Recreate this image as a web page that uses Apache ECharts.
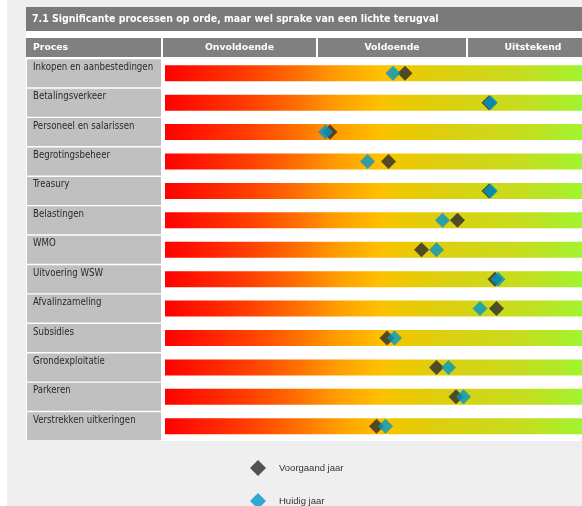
<!DOCTYPE html>
<html><head><meta charset="utf-8">
<script src="https://cdn.jsdelivr.net/npm/echarts@6/dist/echarts.min.js"></script>
<style>html,body{margin:0;padding:0;background:#fff}#c{width:582px;height:506px}</style>
</head><body><div id="c"></div>
<script>
const titleText = '7.1 Significante processen op orde, maar wel sprake van een lichte terugval';
const headerLabels = ['Proces', 'Onvoldoende', 'Voldoende', 'Uitstekend'];
const categories = ['Inkopen en aanbestedingen', 'Betalingsverkeer', 'Personeel en salarissen', 'Begrotingsbeheer', 'Treasury', 'Belastingen', 'WMO', 'Uitvoering WSW', 'Afvalinzameling', 'Subsidies', 'Grondexploitatie', 'Parkeren', 'Verstrekken uitkeringen'];
const seriesNames = ['Voorgaand jaar', 'Huidig jaar'];
const previousYear = [1.60, 2.16, 1.10, 1.49, 2.16, 1.95, 1.71, 2.20, 2.21, 1.48, 1.81, 1.94, 1.41];
const currentYear = [1.52, 2.17, 1.07, 1.35, 2.17, 1.85, 1.81, 2.22, 2.10, 1.53, 1.89, 1.99, 1.47];
const trackValues = [3, 3, 3, 3, 3, 3, 3, 3, 3, 3, 3, 3, 3];
const labelCellValues = [1, 1, 1, 1, 1, 1, 1, 1, 1, 1, 1, 1, 1];

const chart = echarts.init(document.getElementById('c'), null, {renderer: 'canvas'});
const narrow = '"Liberation Sans Narrow", "DejaVu Sans Condensed", sans-serif';

const headerCells = [[26, 135], [163, 153], [318, 148], [468, 130]];
const headerGraphics = [];
headerLabels.forEach((lab, i) => {
  const [x, w] = headerCells[i];
  headerGraphics.push({type: 'rect', shape: {x: x, y: 38, width: w, height: 19}, style: {fill: '#808080'}, silent: true});
  headerGraphics.push({type: 'text', x: i === 0 ? 33 : x + w / 2, y: 47.5,
    style: {text: lab, fill: '#ffffff', font: 'bold 9.3px "DejaVu Sans", sans-serif', textAlign: i === 0 ? 'left' : 'center', textVerticalAlign: 'middle'}, silent: true});
});

const gradient = new echarts.graphic.LinearGradient(0, 0, 1, 0, [
  {offset: 0, color: '#ff0000'},
  {offset: 0.204, color: '#ff4000'},
  {offset: 0.324, color: '#ff7200'},
  {offset: 0.42, color: '#ffa000'},
  {offset: 0.516, color: '#ffc000'},
  {offset: 0.564, color: '#eec800'},
  {offset: 0.671, color: '#dccf10'},
  {offset: 0.851, color: '#c6dd1e'},
  {offset: 0.947, color: '#b0ea28'},
  {offset: 1, color: '#a0f530'}
]);

const legendBase = {orient: 'vertical', left: 250, padding: 0, icon: 'diamond', itemWidth: 16, itemHeight: 16,
  textStyle: {color: '#333333', fontSize: 9.5, fontFamily: '"Liberation Sans", sans-serif', padding: [0, 0, 5, 8]}};

chart.setOption({
  animation: false,
  backgroundColor: '#ffffff',
  graphic: [
    {type: 'rect', z: -10, shape: {x: 7, y: 0, width: 575, height: 506}, style: {fill: '#efefef'}, silent: true},
    {type: 'rect', z: -9, shape: {x: 26, y: 31, width: 556, height: 410}, style: {fill: '#ffffff'}, silent: true},
    {type: 'rect', shape: {x: 26, y: 7, width: 556, height: 24}, style: {fill: '#7a7a7a'}, silent: true},
    {type: 'text', x: 32, y: 19.5, style: {text: titleText, fill: '#ffffff', font: 'bold 10.5px ' + narrow, textVerticalAlign: 'middle'}, silent: true}
  ].concat(headerGraphics),
  legend: [
    Object.assign({data: [seriesNames[0]], top: 460}, legendBase),
    Object.assign({data: [seriesNames[1]], top: 493}, legendBase)
  ],
  grid: [
    {left: 27, top: 58.5, width: 134, height: 382.5},
    {left: 165, top: 58.5, width: 417, height: 382.5}
  ],
  xAxis: [
    {gridIndex: 0, type: 'value', min: 0, max: 1, show: false},
    {gridIndex: 1, type: 'value', min: 0, max: 2.78, show: false}
  ],
  yAxis: [
    {gridIndex: 0, type: 'category', data: categories, inverse: true, show: false},
    {gridIndex: 1, type: 'category', data: categories, inverse: true, show: false}
  ],
  series: [
    {type: 'bar', xAxisIndex: 0, yAxisIndex: 0, data: labelCellValues, barWidth: 28, silent: true,
      itemStyle: {color: '#c0c0c0'},
      label: {show: true, position: 'insideTopLeft', distance: 0, offset: [6, 3], formatter: '{b}',
        color: '#2a2a2a', fontSize: 9.6, fontFamily: narrow}},
    {type: 'bar', xAxisIndex: 1, yAxisIndex: 1, data: trackValues, barWidth: 16, silent: true,
      itemStyle: {color: gradient}},
    {name: seriesNames[0], type: 'scatter', xAxisIndex: 1, yAxisIndex: 1, symbol: 'diamond', symbolSize: 15,
      itemStyle: {color: '#2b2b2b'}, z: 3,
      data: previousYear.map((v, i) => [v, categories[i]])},
    {name: seriesNames[1], type: 'scatter', xAxisIndex: 1, yAxisIndex: 1, symbol: 'diamond', symbolSize: 15,
      itemStyle: {color: '#0096c8'}, z: 4,
      data: currentYear.map((v, i) => [v, categories[i]])}
  ]
});
</script></body></html>
